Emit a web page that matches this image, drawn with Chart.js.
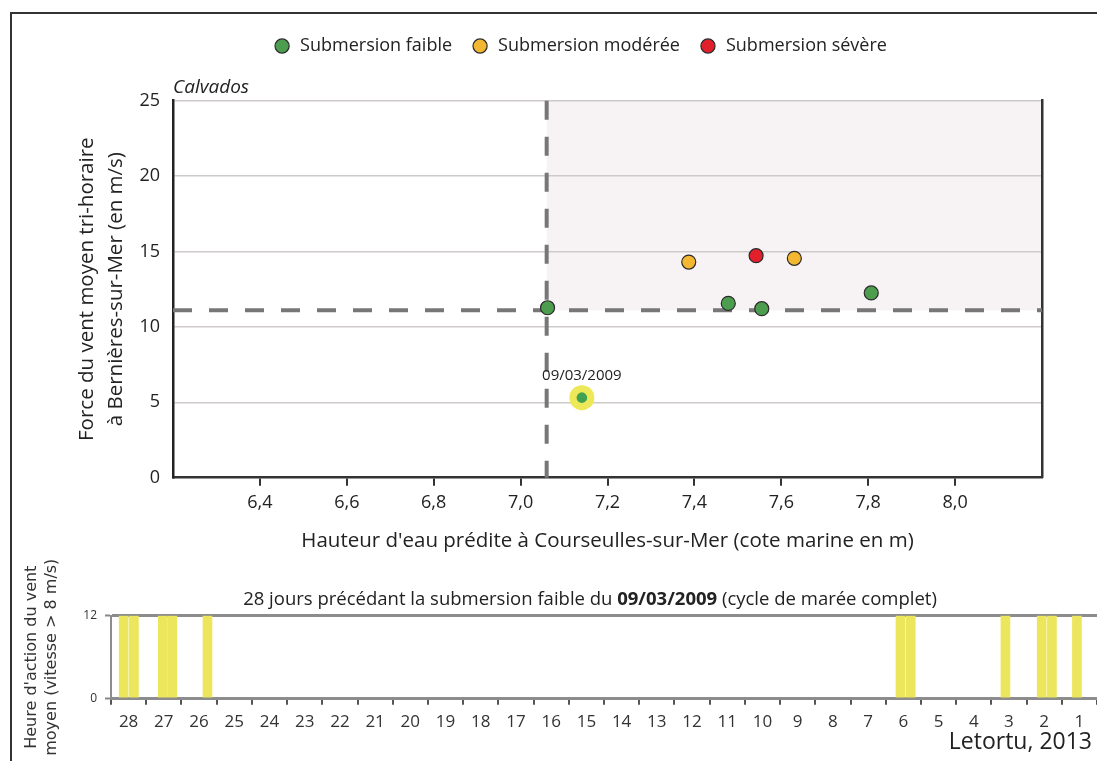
<!DOCTYPE html>
<html lang="fr">
<head>
<meta charset="utf-8">
<script src="https://cdn.jsdelivr.net/npm/chart.js@4.4.1/dist/chart.umd.min.js"></script>
<style>
  html, body { margin: 0; padding: 0; background: #fff; }
  body { width: 1097px; height: 761px; position: relative; overflow: hidden; }
  #cadre { position: absolute; left: 10px; top: 12px; width: 1200px; height: 900px; border-left: 2px solid #333; border-top: 2px solid #333; }
  #haut { position: absolute; left: 0; top: 0; width: 1097px; height: 560px; }
  #bas { position: absolute; left: 0; top: 540px; width: 1097px; height: 221px; }
</style>
</head>
<body>
<div id="cadre"></div>
<div id="haut"><canvas id="nuage"></canvas></div>
<div id="bas"><canvas id="barres"></canvas></div>
<script>
// hauteur d'eau (m) / vent moyen tri-horaire (m/s)
var faibleX = [7.062, 7.478, 7.555, 7.807];
var faibleY = [11.27, 11.56, 11.21, 12.25];
var modereeX = [7.387, 7.630];
var modereeY = [14.30, 14.55];
var severeX = [7.542];
var severeY = [14.72];
var evenementX = [7.141];
var evenementY = [5.31];
var evenementDate = "09/03/2009";
var seuilHauteur = 7.06;
var seuilVent = 11.1;
var hauteurTicks = [6.4, 6.6, 6.8, 7.0, 7.2, 7.4, 7.6, 7.8, 8.0];
var ventTicks = [0, 5, 10, 15, 20, 25];

// 28 jours avant l'evenement, position en jours avant le 09/03/2009
var jours = [1, 2, 3, 4, 5, 6, 7, 8, 9, 10, 11, 12, 13, 14, 15, 16, 17, 18, 19, 20, 21, 22, 23, 24, 25, 26, 27, 28];
var ventJours = [27.64, 27.35, 26.53, 26.26, 25.26, 5.58, 5.29, 2.60, 1.57, 1.28, 0.57];
var ventHeures = [12, 12, 12, 12, 12, 12, 12, 12, 12, 12, 12];
var heureTicks = [0, 12];

Chart.defaults.font.family = "'Open Sans', sans-serif";
Chart.defaults.color = '#222';

function points(xs, ys) {
    return xs.map(function(x, i) { return {x: x, y: ys[i]}; });
}

var zoneSubmersion = {
    id: 'zoneSubmersion',
    beforeDraw: function(chart) {
        const ctx = chart.ctx, a = chart.chartArea;
        const x0 = chart.scales.x.getPixelForValue(seuilHauteur);
        const y0 = chart.scales.y.getPixelForValue(seuilVent);
        ctx.save();
        ctx.fillStyle = '#f7f3f4';
        ctx.fillRect(x0, a.top, a.right - x0, y0 - a.top);
        ctx.restore();
    },
    beforeDatasetsDraw: function(chart) {
        const ctx = chart.ctx, a = chart.chartArea;
        const x0 = chart.scales.x.getPixelForValue(seuilHauteur);
        const y0 = chart.scales.y.getPixelForValue(seuilVent);
        ctx.save();
        ctx.strokeStyle = '#777';
        ctx.lineWidth = 4;
        ctx.setLineDash([19, 17]);
        ctx.beginPath();
        ctx.moveTo(x0, a.top);
        ctx.lineTo(x0, a.bottom);
        ctx.moveTo(a.left, y0);
        ctx.lineTo(a.right, y0);
        ctx.stroke();
        ctx.restore();
    },
    afterDatasetsDraw: function(chart) {
        const ctx = chart.ctx;
        const p = chart.getDatasetMeta(3).data[0];
        ctx.save();
        ctx.font = "15px 'Open Sans'";
        ctx.fillStyle = '#222';
        ctx.textAlign = 'center';
        ctx.textBaseline = 'middle';
        ctx.fillText(evenementDate, p.x, p.y - 22);
        ctx.restore();
    }
};

new Chart(document.getElementById('nuage'), {
    type: 'scatter',
    data: {
        datasets: [{
            label: 'Submersion faible',
            data: points(faibleX, faibleY),
            backgroundColor: '#4c9e4e',
            borderColor: '#2b2b2b',
            borderWidth: 1.2,
            pointRadius: 7
        }, {
            label: 'Submersion modérée',
            data: points(modereeX, modereeY),
            backgroundColor: '#f3b731',
            borderColor: '#2b2b2b',
            borderWidth: 1.2,
            pointRadius: 7
        }, {
            label: 'Submersion sévère',
            data: points(severeX, severeY),
            backgroundColor: '#e2202b',
            borderColor: '#2b2b2b',
            borderWidth: 1.2,
            pointRadius: 7
        }, {
            label: evenementDate,
            data: points(evenementX, evenementY),
            backgroundColor: '#42a052',
            borderWidth: 0,
            pointRadius: 5.3
        }, {
            label: 'halo',
            data: points(evenementX, evenementY),
            backgroundColor: '#ede857',
            borderWidth: 0,
            pointRadius: 12.5
        }]
    },
    options: {
        animation: false,
        responsive: true,
        maintainAspectRatio: false,
        events: [],
        layout: { padding: { top: 18, left: 118, right: 55, bottom: 0 } },
        plugins: {
            tooltip: { enabled: false },
            legend: {
                position: 'top',
                labels: {
                    usePointStyle: true,
                    pointStyle: 'circle',
                    boxHeight: 10,
                    padding: 19,
                    color: '#222',
                    font: { size: 18 },
                    filter: function(item) { return item.datasetIndex < 3; }
                }
            },
            title: {
                display: true,
                text: 'Calvados',
                align: 'start',
                position: 'top',
                fullSize: false,
                weight: 500,
                color: '#222',
                font: { size: 19, style: 'italic', weight: 'normal' },
                padding: { top: 11.6, bottom: 1.3 }
            }
        },
        scales: {
            x: {
                type: 'linear',
                min: 6.2,
                max: 8.2,
                afterBuildTicks: function(s) { s.ticks = hauteurTicks.map(function(v) { return {value: v}; }); },
                afterFit: function(s) { s.height = 82.3; },
                ticks: {
                    autoSkip: false,
                    maxRotation: 0,
                    padding: 6.5,
                    color: '#222',
                    font: { size: 18 },
                    callback: function(v) { return v.toFixed(1).replace('.', ','); }
                },
                grid: { drawOnChartArea: false, drawTicks: true, tickLength: 8, color: '#333', lineWidth: 2 },
                border: { color: '#333', width: 2.5 },
                title: {
                    display: true,
                    text: "Hauteur d'eau prédite à Courseulles-sur-Mer (cote marine en m)",
                    color: '#222',
                    font: { size: 20.5 },
                    padding: { top: 0, bottom: 6.7 }
                }
            },
            y: {
                min: 0,
                max: 25,
                afterBuildTicks: function(s) { s.ticks = ventTicks.map(function(v) { return {value: v}; }); },
                afterFit: function(s) { s.width = 55; },
                ticks: { padding: 13, color: '#222', font: { size: 18 } },
                grid: {
                    drawTicks: false,
                    lineWidth: 1.5,
                    color: function(c) { return c.tick && c.tick.value === 0 ? 'rgba(0,0,0,0)' : '#cfcaca'; }
                },
                border: { color: '#222', width: 2.5 },
                title: {
                    display: true,
                    text: ['Force du vent moyen tri-horaire', 'à Bernières-sur-Mer (en m/s)'],
                    color: '#222',
                    font: { size: 20.5, lineHeight: 1.415 },
                    padding: { top: -45.5, bottom: 0 }
                }
            },
            yr: {
                position: 'right',
                afterFit: function(s) { s.width = 0; },
                ticks: { display: false },
                grid: { display: false },
                border: { color: '#333', width: 2.5 }
            }
        }
    },
    plugins: [zoneSubmersion]
});

var titreBas = {
    id: 'titreBas',
    afterDraw: function(chart) {
        const ctx = chart.ctx;
        const morceaux = [
            ['28 jours précédant la submersion faible du ', 'normal'],
            [evenementDate, 'bold'],
            [' (cycle de marée complet)', 'normal']
        ];
        ctx.save();
        ctx.fillStyle = '#222';
        ctx.textBaseline = 'middle';
        ctx.textAlign = 'left';
        let total = 0;
        morceaux.forEach(function(m) {
            ctx.font = m[1] + " 18.5px 'Open Sans'";
            total += ctx.measureText(m[0]).width;
        });
        let x = 590 - total / 2;
        morceaux.forEach(function(m) {
            ctx.font = m[1] + " 18.5px 'Open Sans'";
            ctx.fillText(m[0], x, 60);
            x += ctx.measureText(m[0]).width;
        });
        ctx.font = "23px 'Open Sans'";
        ctx.textAlign = 'right';
        ctx.fillText('Letortu, 2013', 1092, 202);
        ctx.restore();
    }
};

new Chart(document.getElementById('barres'), {
    type: 'bar',
    data: {
        datasets: [{
            label: 'Heures de vent > 8 m/s',
            data: points(ventJours, ventHeures),
            backgroundColor: '#ece65c',
            borderWidth: 0,
            barThickness: 9
        }]
    },
    options: {
        animation: false,
        responsive: true,
        maintainAspectRatio: false,
        events: [],
        layout: { padding: { top: 75.7, left: 22, right: 0, bottom: 0 } },
        plugins: { legend: { display: false }, tooltip: { enabled: false } },
        scales: {
            x: {
                type: 'linear',
                min: 0,
                max: 28,
                reverse: true,
                offset: false,
                afterBuildTicks: function(s) { s.ticks = jours.map(function(j) { return {value: j - 0.5}; }); },
                afterFit: function(s) { s.height = 62.3; },
                ticks: {
                    autoSkip: false,
                    maxRotation: 0,
                    padding: 7,
                    color: '#333',
                    font: { size: 17 },
                    callback: function(v) { return String(Math.round(v + 0.5)); }
                },
                grid: { offset: true, drawOnChartArea: false, drawTicks: true, tickLength: 6, color: '#555', lineWidth: 2 },
                border: { display: false }
            },
            y: {
                min: 0,
                max: 12,
                z: 1,
                afterBuildTicks: function(s) { s.ticks = heureTicks.map(function(v) { return {value: v}; }); },
                afterFit: function(s) { s.width = 89; },
                ticks: { padding: 8, color: '#333', font: { size: 12 } },
                grid: { color: '#8c8c8c', lineWidth: 3, tickLength: 6, tickWidth: 2, tickColor: '#888' },
                border: { color: '#8c8c8c', width: 2 },
                title: {
                    display: true,
                    text: ["Heure d'action du vent", 'moyen (vitesse > 8 m/s)'],
                    color: '#333',
                    font: { family: "'DejaVu Sans', sans-serif", size: 16, lineHeight: 1.25 },
                    padding: 0
                }
            }
        }
    },
    plugins: [titreBas]
});
</script>
</body>
</html>
